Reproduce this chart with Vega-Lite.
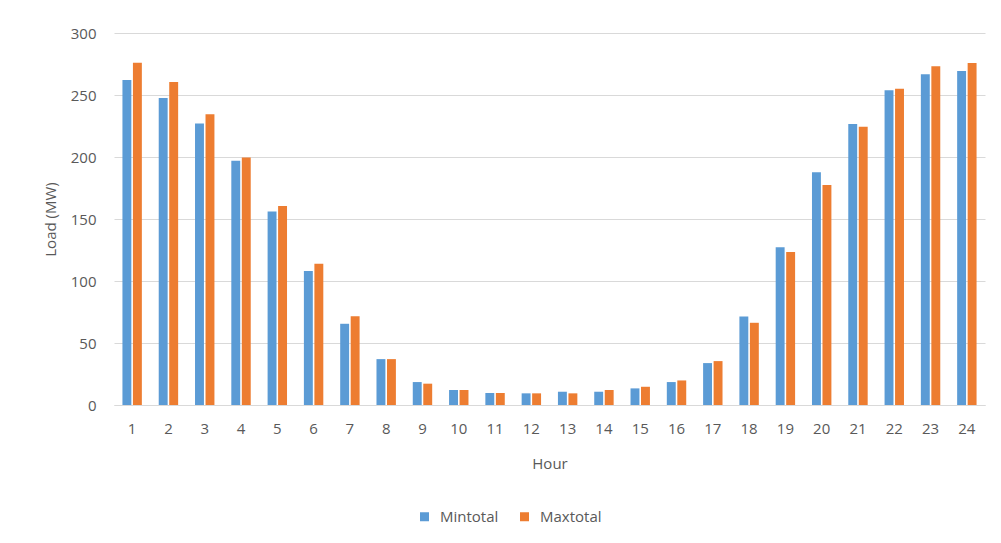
{
  "$schema": "https://vega.github.io/schema/vega-lite/v6.json",
  "width": 871,
  "height": 372,
  "autosize": {"type": "none"},
  "padding": {"left": 114, "top": 33, "right": 16, "bottom": 138},
  "background": "white",
  "config": {
    "font": "Open Sans",
    "view": {"stroke": null},
    "axis": {
      "labelFont": "Open Sans",
      "titleFont": "Open Sans",
      "labelColor": "#595959",
      "titleColor": "#595959",
      "labelFontSize": 15,
      "titleFontSize": 15,
      "titleFontWeight": "normal",
      "ticks": false
    },
    "legend": {
      "labelFont": "Open Sans",
      "labelColor": "#595959",
      "labelFontSize": 15
    }
  },
  "data": {
    "values": [
      {"hour": 1, "series": "Mintotal", "load": 262},
      {"hour": 1, "series": "Maxtotal", "load": 276},
      {"hour": 2, "series": "Mintotal", "load": 247.5},
      {"hour": 2, "series": "Maxtotal", "load": 260.5},
      {"hour": 3, "series": "Mintotal", "load": 227},
      {"hour": 3, "series": "Maxtotal", "load": 234.5},
      {"hour": 4, "series": "Mintotal", "load": 197},
      {"hour": 4, "series": "Maxtotal", "load": 199.5},
      {"hour": 5, "series": "Mintotal", "load": 156},
      {"hour": 5, "series": "Maxtotal", "load": 160.5},
      {"hour": 6, "series": "Mintotal", "load": 108},
      {"hour": 6, "series": "Maxtotal", "load": 114},
      {"hour": 7, "series": "Mintotal", "load": 65.5},
      {"hour": 7, "series": "Maxtotal", "load": 71.5},
      {"hour": 8, "series": "Mintotal", "load": 37},
      {"hour": 8, "series": "Maxtotal", "load": 37},
      {"hour": 9, "series": "Mintotal", "load": 18.5},
      {"hour": 9, "series": "Maxtotal", "load": 17.2},
      {"hour": 10, "series": "Mintotal", "load": 12.1},
      {"hour": 10, "series": "Maxtotal", "load": 12.1},
      {"hour": 11, "series": "Mintotal", "load": 9.7},
      {"hour": 11, "series": "Maxtotal", "load": 9.7},
      {"hour": 12, "series": "Mintotal", "load": 9.4},
      {"hour": 12, "series": "Maxtotal", "load": 9.4},
      {"hour": 13, "series": "Mintotal", "load": 10.7},
      {"hour": 13, "series": "Maxtotal", "load": 9.4},
      {"hour": 14, "series": "Mintotal", "load": 10.7},
      {"hour": 14, "series": "Maxtotal", "load": 12.1},
      {"hour": 15, "series": "Mintotal", "load": 13.4},
      {"hour": 15, "series": "Maxtotal", "load": 14.7},
      {"hour": 16, "series": "Mintotal", "load": 18.5},
      {"hour": 16, "series": "Maxtotal", "load": 19.8},
      {"hour": 17, "series": "Mintotal", "load": 33.8},
      {"hour": 17, "series": "Maxtotal", "load": 35.4},
      {"hour": 18, "series": "Mintotal", "load": 71.4},
      {"hour": 18, "series": "Maxtotal", "load": 66.3},
      {"hour": 19, "series": "Mintotal", "load": 127.3},
      {"hour": 19, "series": "Maxtotal", "load": 123.3},
      {"hour": 20, "series": "Mintotal", "load": 187.8},
      {"hour": 20, "series": "Maxtotal", "load": 177.5},
      {"hour": 21, "series": "Mintotal", "load": 226.7},
      {"hour": 21, "series": "Maxtotal", "load": 224.3},
      {"hour": 22, "series": "Mintotal", "load": 253.8},
      {"hour": 22, "series": "Maxtotal", "load": 255.1},
      {"hour": 23, "series": "Mintotal", "load": 266.7},
      {"hour": 23, "series": "Maxtotal", "load": 273.2},
      {"hour": 24, "series": "Mintotal", "load": 269.4},
      {"hour": 24, "series": "Maxtotal", "load": 275.9}
    ]
  },
  "mark": {"type": "bar"},
  "encoding": {
    "x": {
      "field": "hour",
      "type": "ordinal",
      "title": "Hour",
      "scale": {"paddingInner": 0.465, "paddingOuter": 0.2325},
      "axis": {
        "labelAngle": 0,
        "labelPadding": 16,
        "domainColor": "#d9d9d9",
        "domainWidth": 1,
        "titleY": 58,
        "titleBaseline": "middle"
      }
    },
    "xOffset": {
      "field": "series",
      "sort": ["Mintotal", "Maxtotal"],
      "scale": {"paddingInner": 0.15, "paddingOuter": 0}
    },
    "y": {
      "field": "load",
      "type": "quantitative",
      "title": "Load (MW)",
      "scale": {"domain": [0, 300], "nice": false},
      "axis": {
        "values": [0, 50, 100, 150, 200, 250, 300],
        "domain": false,
        "gridColor": "#d9d9d9",
        "gridWidth": 1,
        "labelPadding": 18,
        "titleX": -64,
        "titleBaseline": "middle"
      }
    },
    "color": {
      "field": "series",
      "type": "nominal",
      "scale": {"domain": ["Mintotal", "Maxtotal"], "range": ["#5B9BD5", "#ED7D31"]},
      "legend": {
        "title": null,
        "orient": "none",
        "direction": "horizontal",
        "legendX": 303,
        "legendY": 476,
        "symbolType": "square",
        "symbolSize": 81,
        "symbolStrokeWidth": 0,
        "labelOffset": 8,
        "columnPadding": 18
      }
    }
  }
}
